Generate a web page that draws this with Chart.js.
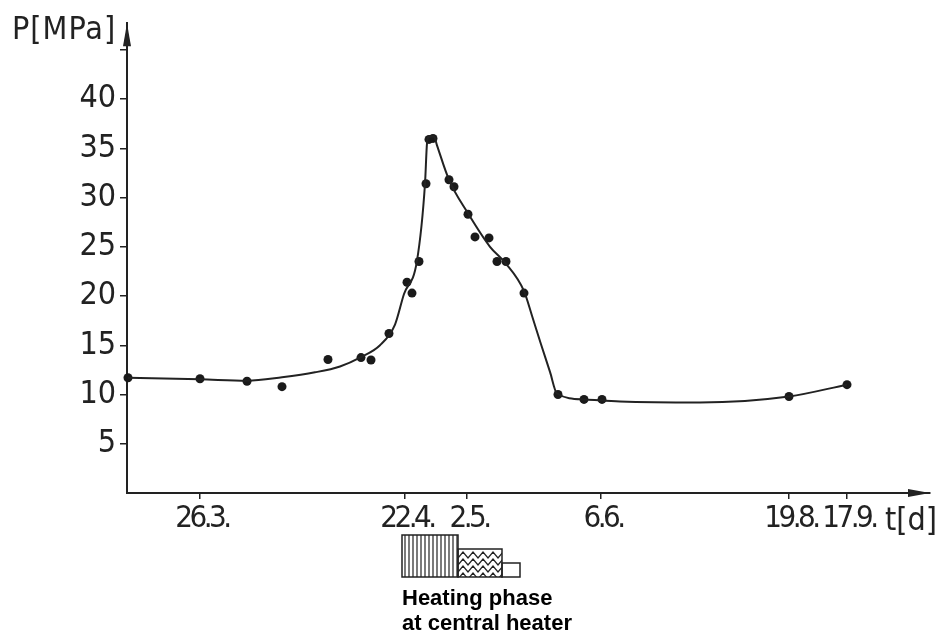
<!DOCTYPE html>
<html><head><meta charset="utf-8">
<script src="https://cdn.jsdelivr.net/npm/chart.js@4/dist/chart.umd.min.js"></script>
<style>html,body{margin:0;padding:0;background:#fff}#wrap{width:952px;height:635px;position:relative}</style>
</head><body><div id="wrap"><canvas id="c" width="952" height="635"></canvas></div>
<script>
// Measured pressures (x in position units along the non-uniform time axis)
const measX = [0.1, 7.3, 12.0, 15.5, 20.1, 23.4, 24.4, 26.2, 28.0, 28.5, 29.2, 29.9, 30.2, 30.6, 32.2, 32.7, 34.1, 34.8, 36.2, 37.0, 37.9, 39.7, 43.1, 45.7, 47.5, 66.2, 72.0];
const measP = [11.7, 11.6, 11.35, 10.8, 13.55, 13.75, 13.5, 16.2, 21.4, 20.3, 23.5, 31.4, 35.9, 36.0, 31.8, 31.1, 28.3, 26.0, 25.9, 23.5, 23.5, 20.3, 10.0, 9.5, 9.5, 9.8, 11.0];
// Fitted curve
const curveX = [0.1, 7.3, 12.0, 15.5, 18.8, 21.3, 23.4, 25.3, 26.8, 27.7, 29.0, 29.8, 30.0, 30.2, 30.7, 31.0, 32.2, 34.1, 36.3, 37.8, 39.7, 40.5, 41.4, 42.3, 43.0, 45.8, 49.3, 57.3, 66.2, 72.0];
const curveP = [11.7, 11.55, 11.4, 11.75, 12.25, 12.85, 13.8, 15.0, 17.1, 20.2, 23.6, 31.4, 35.5, 36.2, 36.2, 35.3, 31.8, 28.4, 25.0, 23.4, 20.5, 18.0, 15.1, 12.3, 10.1, 9.5, 9.3, 9.2, 9.8, 11.0];
// Axis ticks
const xTickPos = [7.3, 27.8, 34.0, 47.4, 66.2, 72.0];
const xTickLabels = ['26.3.', '22.4.', '2.5.', '6.6.', '19.8.', '17.9.'];
const yTickVals = [5, 10, 15, 20, 25, 30, 35, 40, 45];
const yLabelled = [5, 10, 15, 20, 25, 30, 35, 40];
// Heating phases at central heater
const heatStart = [27.5, 33.1, 37.5];
const heatEnd = [33.1, 37.5, 39.3];
const heatLevel = [3, 2, 1];
const yTitle = 'P[MPa]';
const xTitle = 't[d]';
const heatText = ['Heating phase', 'at central heater'];

const INK = '#222';
const FAMILY = '"DejaVu Sans Condensed", "Liberation Sans Narrow", "DejaVu Sans", sans-serif';
const TICKFONT = {family: FAMILY, size: 32, weight: 'normal'};
const XTICKFONT = {family: FAMILY, size: 31, weight: 'normal'};

function tightLabels(s) {
  if (s._tight) return;
  const orig = s.drawLabels.bind(s);
  s.drawLabels = function (area) {
    this.ctx.save();
    this.ctx.letterSpacing = '-3.5px';
    this.ctx.translate(2, 0);
    orig(area);
    this.ctx.restore();
  };
  s._tight = true;
}

const decor = {
  id: 'decor',
  afterDraw(chart) {
    const ctx = chart.ctx, a = chart.chartArea, xs = chart.scales.x;
    ctx.save();
    ctx.fillStyle = INK;
    // y arrow
    ctx.beginPath();
    ctx.moveTo(a.left, a.top);
    ctx.lineTo(a.left - 4, a.top + 23);
    ctx.lineTo(a.left + 4, a.top + 23);
    ctx.closePath(); ctx.fill();
    // x arrow
    ctx.beginPath();
    ctx.moveTo(a.right, a.bottom);
    ctx.lineTo(a.right - 22, a.bottom - 4);
    ctx.lineTo(a.right - 22, a.bottom + 4);
    ctx.closePath(); ctx.fill();
    // titles
    ctx.font = `${TICKFONT.size}px ${TICKFONT.family}`;
    ctx.textBaseline = 'alphabetic';
    ctx.textAlign = 'left';
    ctx.letterSpacing = '1px';
    ctx.fillText(yTitle, 12, 39);
    ctx.letterSpacing = '0px';
    ctx.fillText(xTitle, 885, a.bottom + 37);
    // heating phases
    const base = 577, unit = 14;
    ctx.strokeStyle = INK; ctx.lineWidth = 1.5;
    for (let i = 0; i < heatStart.length; i++) {
      const x0 = xs.getPixelForValue(heatStart[i]);
      const x1 = xs.getPixelForValue(heatEnd[i]);
      const h = heatLevel[i] * unit;
      const y0 = base - h;
      ctx.save();
      ctx.beginPath(); ctx.rect(x0, y0, x1 - x0, h); ctx.clip();
      ctx.lineWidth = 1.2;
      if (i === 0) {
        for (let x = x0 + 3; x < x1; x += 4) {
          ctx.beginPath(); ctx.moveTo(x, y0); ctx.lineTo(x, base); ctx.stroke();
        }
      } else if (i === 1) {
        for (let y = y0 + 9; y < base + 10; y += 7) {
          ctx.beginPath();
          let up = true;
          ctx.moveTo(x0, y);
          for (let x = x0 + 5; x <= x1 + 10; x += 5) {
            ctx.lineTo(x, up ? y - 6 : y);
            up = !up;
          }
          ctx.stroke();
        }
      }
      ctx.restore();
      ctx.lineWidth = 1.5;
      ctx.strokeRect(x0, y0, x1 - x0, h);
    }
    ctx.font = 'bold 22px "Liberation Sans", Arial, sans-serif';
    ctx.fillStyle = '#000';
    const tx = xs.getPixelForValue(heatStart[0]);
    ctx.fillText(heatText[0], tx, 605);
    ctx.fillText(heatText[1], tx, 630);
    ctx.restore();
  }
};

new Chart(document.getElementById('c'), {
  type: 'scatter',
  data: {
    datasets: [
      {
        type: 'line',
        data: curveX.map((x, i) => ({x, y: curveP[i]})),
        borderColor: INK, borderWidth: 2, pointRadius: 0,
        cubicInterpolationMode: 'monotone', fill: false, clip: false
      },
      {
        data: measX.map((x, i) => ({x, y: measP[i]})),
        backgroundColor: '#1a1a1a', borderWidth: 0, pointRadius: 4.5, clip: false
      }
    ]
  },
  options: {
    responsive: false,
    animation: false,
    devicePixelRatio: 1,
    layout: {padding: {top: 22, right: 22, left: 0, bottom: 0}},
    plugins: {legend: {display: false}, tooltip: {enabled: false}},
    scales: {
      x: {
        type: 'linear', min: 0, max: 80.3,
        afterBuildTicks: s => { s.ticks = xTickPos.map(v => ({value: v})); },
        afterFit: s => { s.height = 142; tightLabels(s); },
        ticks: {
          autoSkip: false, maxRotation: 0, padding: 1,
          callback: (v, i) => xTickLabels[i],
          color: INK, font: XTICKFONT
        },
        grid: {drawOnChartArea: false, drawTicks: true, tickLength: 6, color: INK, lineWidth: 1.5},
        border: {display: true, color: INK, width: 2}
      },
      y: {
        type: 'linear', min: 0, max: 47.7,
        afterBuildTicks: s => { s.ticks = yTickVals.map(v => ({value: v})); },
        afterFit: s => { s.width = 127; },
        ticks: {
          padding: 4,
          callback: v => yLabelled.includes(v) ? String(v) : '',
          color: INK, font: TICKFONT
        },
        grid: {drawOnChartArea: false, drawTicks: true, tickLength: 7, color: INK, lineWidth: 1.5},
        border: {display: true, color: INK, width: 2}
      }
    }
  },
  plugins: [decor]
});
</script>
</body></html>
